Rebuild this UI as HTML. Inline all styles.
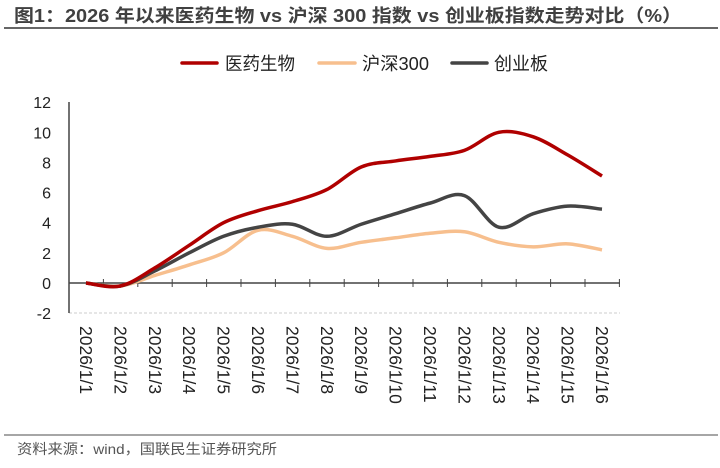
<!DOCTYPE html>
<html><head><meta charset="utf-8"><style>
body{margin:0;background:#fff;width:720px;height:463px;overflow:hidden;font-family:"Liberation Sans","Noto Sans CJK SC",sans-serif;}
</style></head><body>
<svg id="s" width="720" height="463" xmlns="http://www.w3.org/2000/svg" font-family="Liberation Sans, Noto Sans CJK SC, sans-serif">
<text x="14" y="22" font-size="18" font-weight="bold" fill="#404040" textLength="668" lengthAdjust="spacingAndGlyphs">图1：2026 年以来医药生物 vs 沪深 300 指数 vs 创业板指数走势对比（%）</text>
<line x1="4" y1="28" x2="718" y2="28" stroke="#666" stroke-width="2"/>
<line x1="182" y1="63" x2="217" y2="63" stroke="#b00000" stroke-width="3.5" stroke-linecap="round"/>
<text x="225" y="70" font-size="18" fill="#222" textLength="70" lengthAdjust="spacingAndGlyphs">医药生物</text>
<line x1="319" y1="63" x2="355" y2="63" stroke="#f7bf8e" stroke-width="3.5" stroke-linecap="round"/>
<text x="362" y="70" font-size="18" fill="#222" textLength="67" lengthAdjust="spacingAndGlyphs">沪深300</text>
<line x1="452" y1="63" x2="487" y2="63" stroke="#444" stroke-width="3.5" stroke-linecap="round"/>
<text x="494" y="70" font-size="18" fill="#222" textLength="54" lengthAdjust="spacingAndGlyphs">创业板</text>
<line x1="69" y1="313" x2="620" y2="313" stroke="#ccc" stroke-dasharray="3,2"/>
<line x1="69" y1="102" x2="69" y2="313" stroke="#444" stroke-width="1.5"/>
<line x1="69" y1="283" x2="620" y2="283" stroke="#444" stroke-width="1.5"/>
<g id="g" font-size="16" fill="#222"></g>
<g id="h" font-size="17.5" fill="#222"></g>
<line x1="4" y1="435" x2="718" y2="435" stroke="#888" stroke-width="1.5"/>
<text x="17" y="454" font-size="14" fill="#555" textLength="260" lengthAdjust="spacingAndGlyphs">资料来源：wind，国联民生证券研究所</text>
</svg>
<script>
var g=document.getElementById('g'),h=document.getElementById('h'),s=document.getElementById('s'),NS="http://www.w3.org/2000/svg";
function el(t,a,p,txt){var e=document.createElementNS(NS,t);for(var k in a)e.setAttribute(k,a[k]);if(txt)e.textContent=txt;(p||s).appendChild(e);return e;}
function Y(v){return 283-v*15.07;}
function X(i){return 86+i*34.4;}
for(var v=-2;v<=12;v+=2)el('text',{x:51,y:Y(v)+6,'text-anchor':'end'},g,''+v);
for(var i=0;i<=16;i++)el('line',{x1:69+i*34.4,y1:279,x2:69+i*34.4,y2:287,stroke:'#444'},s);
for(var i=0;i<16;i++)el('text',{transform:'translate('+(X(i)-6)+',326) rotate(90)'},h,'2026/1/'+(i+1));
var D=[['#f7bf8e',[0,-0.2,0.5,1.2,2.0,3.5,3.1,2.3,2.7,3.0,3.3,3.4,2.7,2.4,2.6,2.2]],
['#444',[0,-0.2,0.8,2.0,3.1,3.7,3.9,3.1,3.9,4.6,5.3,5.8,3.7,4.6,5.1,4.9]],
['#b00000',[0,-0.2,1.0,2.5,4.0,4.8,5.4,6.2,7.7,8.1,8.4,8.8,10.0,9.7,8.5,7.1]]];
D.forEach(function(d){var p=d[1].map(function(v,i){return[X(i),Y(v)]});var str='M'+p[0];
for(var i=0;i<p.length-1;i++){var a=p[Math.max(i-1,0)],b=p[i],c=p[i+1],e=p[Math.min(i+2,p.length-1)];
str+=' C'+(b[0]+(c[0]-a[0])/6)+','+(b[1]+(c[1]-a[1])/6)+' '+(c[0]-(e[0]-b[0])/6)+','+(c[1]-(e[1]-b[1])/6)+' '+c[0]+','+c[1];}
el('path',{d:str,fill:'none',stroke:d[0],'stroke-width':3.5,'stroke-linejoin':'round'});});
</script>
</body></html>
